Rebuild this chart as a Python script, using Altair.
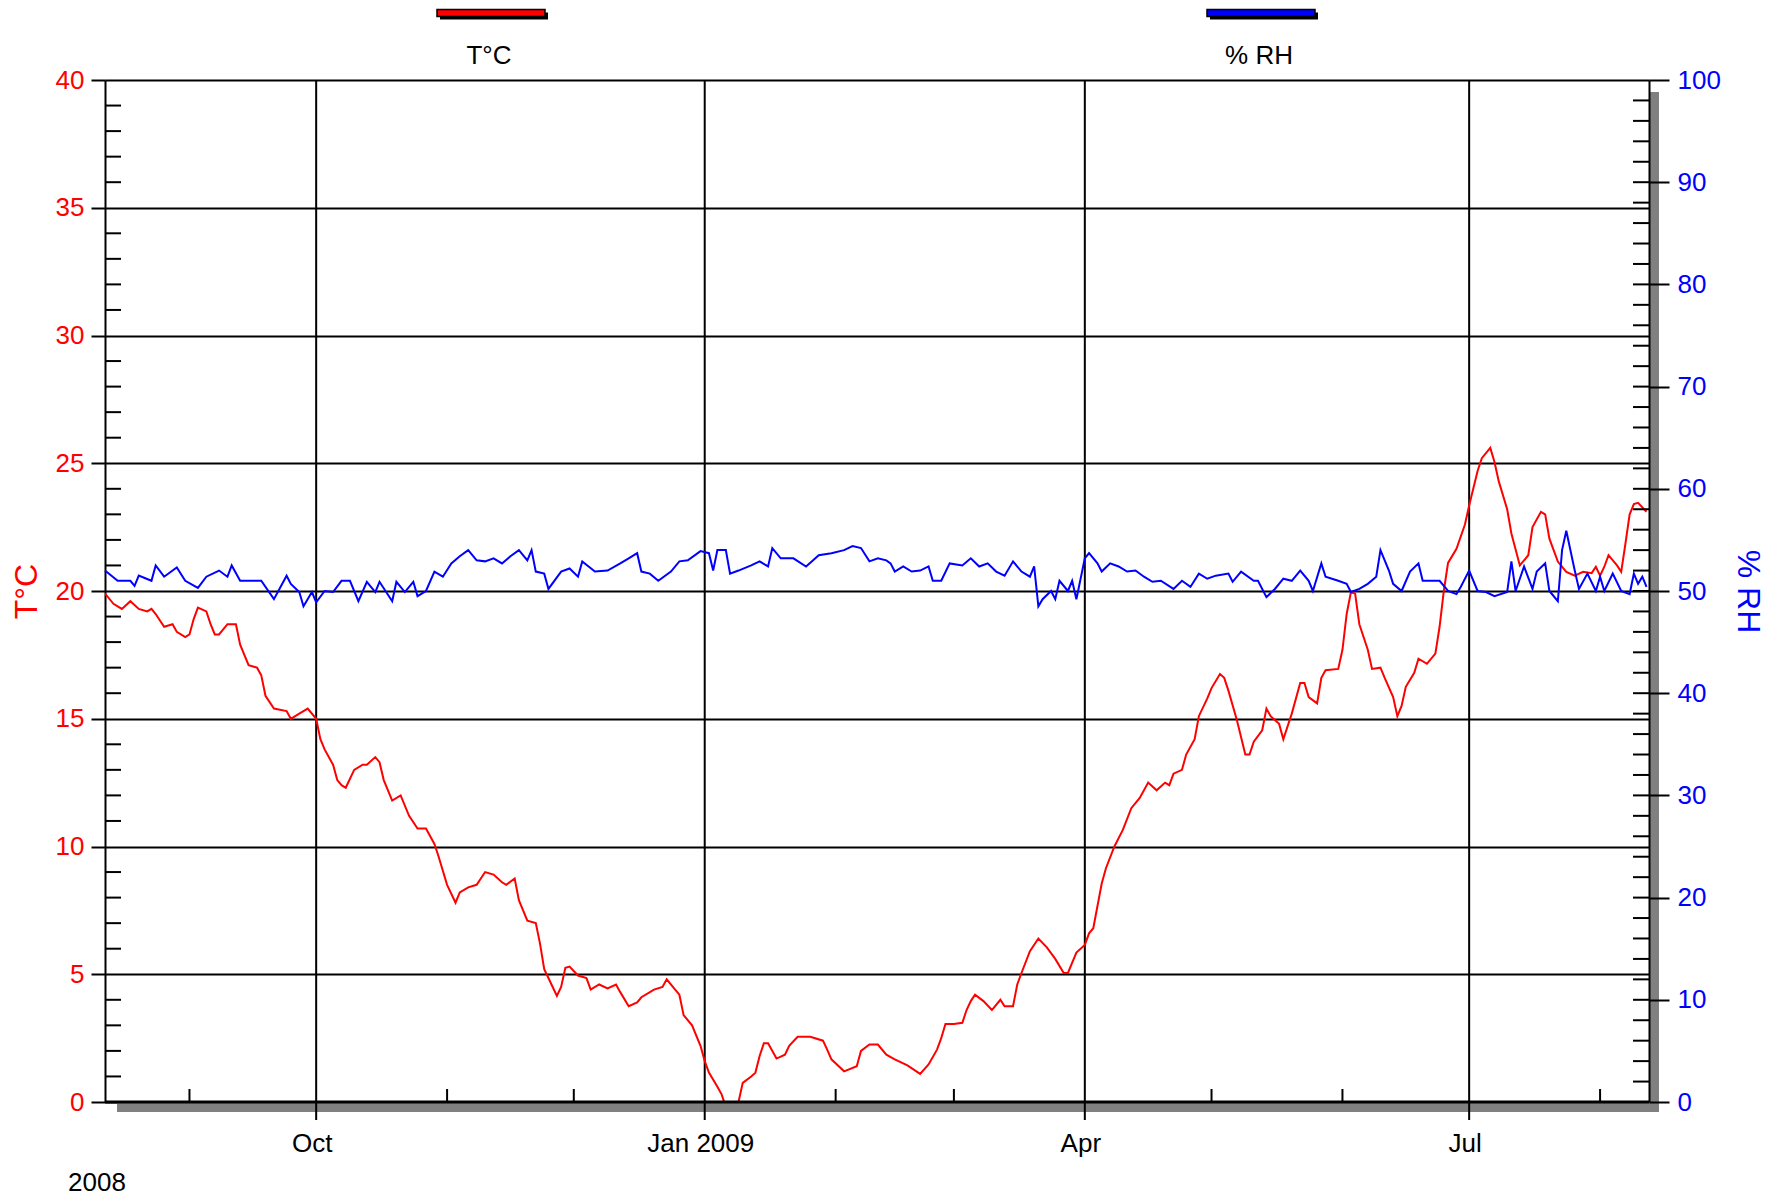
import altair as alt
import pandas as pd

# ---------------- data ----------------
t_dates = [
    "2008-08-12", "2008-08-14", "2008-08-16", "2008-08-18", "2008-08-20", "2008-08-22", "2008-08-23", "2008-08-24",
    "2008-08-26", "2008-08-28", "2008-08-29", "2008-08-31", "2008-09-01", "2008-09-02", "2008-09-03", "2008-09-05",
    "2008-09-06", "2008-09-07", "2008-09-08", "2008-09-10", "2008-09-12", "2008-09-13", "2008-09-15", "2008-09-17",
    "2008-09-18", "2008-09-19", "2008-09-21", "2008-09-24", "2008-09-25", "2008-09-27", "2008-09-29", "2008-10-01",
    "2008-10-02", "2008-10-03", "2008-10-05", "2008-10-06", "2008-10-07", "2008-10-08", "2008-10-10", "2008-10-12",
    "2008-10-13", "2008-10-15", "2008-10-16", "2008-10-17", "2008-10-19", "2008-10-21", "2008-10-23", "2008-10-25",
    "2008-10-27", "2008-10-29", "2008-10-30", "2008-11-01", "2008-11-03", "2008-11-04", "2008-11-06", "2008-11-08",
    "2008-11-10", "2008-11-12", "2008-11-14", "2008-11-15", "2008-11-17", "2008-11-18", "2008-11-20", "2008-11-22",
    "2008-11-23", "2008-11-24", "2008-11-26", "2008-11-27", "2008-11-28", "2008-11-29", "2008-11-30", "2008-12-02",
    "2008-12-04", "2008-12-05", "2008-12-07", "2008-12-09", "2008-12-11", "2008-12-12", "2008-12-14", "2008-12-16",
    "2008-12-17", "2008-12-20", "2008-12-22", "2008-12-23", "2008-12-25", "2008-12-26", "2008-12-27", "2008-12-29",
    "2008-12-31", "2009-01-01", "2009-01-02", "2009-01-04", "2009-01-05", "2009-01-06", "2009-01-08", "2009-01-09",
    "2009-01-10", "2009-01-12", "2009-01-13", "2009-01-14", "2009-01-15", "2009-01-16", "2009-01-18", "2009-01-20",
    "2009-01-21", "2009-01-23", "2009-01-26", "2009-01-29", "2009-01-30", "2009-01-31", "2009-02-03", "2009-02-06",
    "2009-02-07", "2009-02-09", "2009-02-11", "2009-02-13", "2009-02-15", "2009-02-18", "2009-02-21", "2009-02-23",
    "2009-02-25", "2009-02-26", "2009-02-27", "2009-03-01", "2009-03-03", "2009-03-04", "2009-03-05", "2009-03-06",
    "2009-03-08", "2009-03-10", "2009-03-12", "2009-03-13", "2009-03-15", "2009-03-16", "2009-03-17", "2009-03-19",
    "2009-03-21", "2009-03-23", "2009-03-25", "2009-03-27", "2009-03-28", "2009-03-30", "2009-04-01", "2009-04-02",
    "2009-04-03", "2009-04-05", "2009-04-06", "2009-04-08", "2009-04-10", "2009-04-12", "2009-04-14", "2009-04-16",
    "2009-04-18", "2009-04-20", "2009-04-21", "2009-04-22", "2009-04-24", "2009-04-25", "2009-04-27", "2009-04-28",
    "2009-04-30", "2009-05-01", "2009-05-03", "2009-05-04", "2009-05-05", "2009-05-07", "2009-05-09", "2009-05-10",
    "2009-05-11", "2009-05-13", "2009-05-14", "2009-05-15", "2009-05-17", "2009-05-18", "2009-05-20", "2009-05-22",
    "2009-05-23", "2009-05-24", "2009-05-26", "2009-05-27", "2009-05-28", "2009-05-31", "2009-06-01", "2009-06-02",
    "2009-06-03", "2009-06-04", "2009-06-05", "2009-06-07", "2009-06-08", "2009-06-10", "2009-06-11", "2009-06-13",
    "2009-06-14", "2009-06-15", "2009-06-16", "2009-06-18", "2009-06-19", "2009-06-21", "2009-06-23", "2009-06-24",
    "2009-06-25", "2009-06-26", "2009-06-28", "2009-06-30", "2009-07-01", "2009-07-03", "2009-07-04", "2009-07-06",
    "2009-07-07", "2009-07-08", "2009-07-10", "2009-07-11", "2009-07-13", "2009-07-15", "2009-07-16", "2009-07-18",
    "2009-07-19", "2009-07-20", "2009-07-22", "2009-07-24", "2009-07-26", "2009-07-28", "2009-07-30", "2009-07-31",
    "2009-08-01", "2009-08-02", "2009-08-03", "2009-08-05", "2009-08-06", "2009-08-07", "2009-08-08", "2009-08-09",
    "2009-08-10", "2009-08-12",
]
t_values = [
    19.9, 19.5, 19.3, 19.6, 19.3, 19.2, 19.3, 19.1,
    18.6, 18.7, 18.4, 18.2, 18.3, 18.9, 19.35, 19.2,
    18.7, 18.3, 18.3, 18.7, 18.7, 17.9, 17.1, 17.0,
    16.7, 15.9, 15.4, 15.3, 15.0, 15.2, 15.4, 15.0,
    14.2, 13.8, 13.2, 12.6, 12.4, 12.3, 13.0, 13.2,
    13.2, 13.5, 13.3, 12.6, 11.8, 12.0, 11.2, 10.7,
    10.7, 10.1, 9.6, 8.5, 7.8, 8.2, 8.4, 8.5,
    9.0, 8.9, 8.6, 8.5, 8.75, 7.9, 7.1, 7.0,
    6.2, 5.2, 4.5, 4.15, 4.5, 5.25, 5.3, 4.95,
    4.85, 4.4, 4.6, 4.45, 4.6, 4.3, 3.75, 3.9,
    4.1, 4.4, 4.5, 4.8, 4.4, 4.2, 3.4, 3.0,
    2.2, 1.6, 1.15, 0.6, 0.3, -0.2, -0.4, 0.0,
    0.75, 1.0, 1.15, 1.8, 2.3, 2.3, 1.7, 1.85,
    2.2, 2.55, 2.55, 2.4, 2.05, 1.67, 1.2, 1.4,
    2.0, 2.25, 2.25, 1.85, 1.67, 1.43, 1.1, 1.47,
    2.05, 2.5, 3.05, 3.05, 3.1, 3.6, 3.95, 4.2,
    3.95, 3.6, 4.0, 3.75, 3.75, 4.6, 5.05, 5.9,
    6.4, 6.05, 5.6, 5.05, 5.05, 5.85, 6.15, 6.6,
    6.8, 8.55, 9.15, 10.0, 10.65, 11.5, 11.9, 12.5,
    12.2, 12.5, 12.4, 12.85, 13.0, 13.6, 14.2, 15.1,
    15.8, 16.2, 16.75, 16.6, 16.1, 14.95, 13.6, 13.6,
    14.1, 14.55, 15.4, 15.1, 14.8, 14.2, 15.2, 16.4,
    16.4, 15.85, 15.6, 16.6, 16.9, 16.95, 17.7, 19.1,
    19.95, 19.9, 18.7, 17.7, 16.95, 17.0, 16.6, 15.85,
    15.1, 15.5, 16.25, 16.8, 17.35, 17.15, 17.55, 18.6,
    20.0, 21.1, 21.65, 22.6, 23.35, 24.7, 25.2, 25.6,
    25.05, 24.3, 23.2, 22.25, 21.0, 21.4, 22.5, 23.1,
    23.0, 22.05, 21.15, 20.75, 20.6, 20.75, 20.7, 20.95,
    20.6, 20.95, 21.4, 21.0, 20.75, 21.85, 23.0, 23.4,
    23.45, 23.1,
]

rh_dates = [
    "2008-08-12", "2008-08-15", "2008-08-18", "2008-08-19", "2008-08-20", "2008-08-23", "2008-08-24", "2008-08-26",
    "2008-08-29", "2008-08-31", "2008-09-03", "2008-09-05", "2008-09-08", "2008-09-10", "2008-09-11", "2008-09-13",
    "2008-09-18", "2008-09-21", "2008-09-24", "2008-09-25", "2008-09-27", "2008-09-28", "2008-09-30", "2008-10-01",
    "2008-10-03", "2008-10-05", "2008-10-07", "2008-10-09", "2008-10-11", "2008-10-13", "2008-10-15", "2008-10-16",
    "2008-10-19", "2008-10-20", "2008-10-22", "2008-10-24", "2008-10-25", "2008-10-27", "2008-10-29", "2008-10-31",
    "2008-11-02", "2008-11-04", "2008-11-06", "2008-11-08", "2008-11-10", "2008-11-12", "2008-11-14", "2008-11-16",
    "2008-11-18", "2008-11-20", "2008-11-21", "2008-11-22", "2008-11-24", "2008-11-25", "2008-11-28", "2008-11-30",
    "2008-12-02", "2008-12-03", "2008-12-06", "2008-12-09", "2008-12-12", "2008-12-14", "2008-12-16", "2008-12-17",
    "2008-12-19", "2008-12-21", "2008-12-24", "2008-12-26", "2008-12-28", "2008-12-31", "2009-01-02", "2009-01-03",
    "2009-01-04", "2009-01-06", "2009-01-07", "2009-01-09", "2009-01-12", "2009-01-14", "2009-01-16", "2009-01-17",
    "2009-01-19", "2009-01-22", "2009-01-25", "2009-01-28", "2009-01-31", "2009-02-03", "2009-02-05", "2009-02-07",
    "2009-02-09", "2009-02-11", "2009-02-13", "2009-02-14", "2009-02-15", "2009-02-17", "2009-02-19", "2009-02-21",
    "2009-02-23", "2009-02-24", "2009-02-26", "2009-02-28", "2009-03-03", "2009-03-05", "2009-03-07", "2009-03-09",
    "2009-03-11", "2009-03-13", "2009-03-15", "2009-03-17", "2009-03-19", "2009-03-20", "2009-03-21", "2009-03-22",
    "2009-03-24", "2009-03-25", "2009-03-26", "2009-03-28", "2009-03-29", "2009-03-30", "2009-04-01", "2009-04-02",
    "2009-04-04", "2009-04-05", "2009-04-07", "2009-04-09", "2009-04-11", "2009-04-13", "2009-04-15", "2009-04-17",
    "2009-04-19", "2009-04-22", "2009-04-24", "2009-04-26", "2009-04-28", "2009-04-30", "2009-05-02", "2009-05-05",
    "2009-05-06", "2009-05-08", "2009-05-11", "2009-05-12", "2009-05-14", "2009-05-16", "2009-05-18", "2009-05-20",
    "2009-05-22", "2009-05-24", "2009-05-25", "2009-05-27", "2009-05-28", "2009-05-31", "2009-06-02", "2009-06-03",
    "2009-06-05", "2009-06-07", "2009-06-09", "2009-06-10", "2009-06-12", "2009-06-13", "2009-06-15", "2009-06-17",
    "2009-06-19", "2009-06-20", "2009-06-22", "2009-06-24", "2009-06-26", "2009-06-28", "2009-06-29", "2009-07-01",
    "2009-07-03", "2009-07-05", "2009-07-07", "2009-07-10", "2009-07-11", "2009-07-12", "2009-07-14", "2009-07-16",
    "2009-07-17", "2009-07-19", "2009-07-20", "2009-07-22", "2009-07-23", "2009-07-24", "2009-07-26", "2009-07-27",
    "2009-07-29", "2009-07-31", "2009-08-01", "2009-08-02", "2009-08-04", "2009-08-06", "2009-08-08", "2009-08-09",
    "2009-08-10", "2009-08-11", "2009-08-12",
]
rh_values = [
    52.0, 51.0, 51.0, 50.5, 51.5, 51.0, 52.5, 51.4,
    52.3, 51.0, 50.3, 51.4, 52.0, 51.4, 52.5, 51.0,
    51.0, 49.2, 51.5, 50.7, 49.9, 48.5, 49.9, 48.9,
    50.0, 49.9, 51.0, 51.0, 49.0, 50.9, 49.9, 50.9,
    49.0, 50.9, 49.9, 50.9, 49.5, 50.0, 51.9, 51.4,
    52.7, 53.4, 54.0, 53.0, 52.9, 53.2, 52.7, 53.4,
    54.0, 53.0, 54.0, 51.9, 51.7, 50.2, 51.9, 52.2,
    51.4, 52.9, 51.9, 52.0, 52.7, 53.2, 53.7, 51.9,
    51.7, 51.0, 51.9, 52.9, 53.0, 53.9, 53.7, 52.0,
    54.0, 54.0, 51.7, 52.0, 52.5, 52.9, 52.4, 54.2,
    53.2, 53.2, 52.4, 53.5, 53.7, 54.0, 54.4, 54.2,
    52.9, 53.2, 53.0, 52.7, 51.9, 52.4, 51.9, 52.0,
    52.4, 51.0, 51.0, 52.7, 52.5, 53.2, 52.4, 52.7,
    51.9, 51.5, 52.9, 51.9, 51.4, 52.4, 48.5, 49.2,
    50.0, 49.2, 51.0, 50.0, 51.0, 49.2, 53.2, 53.7,
    52.7, 51.9, 52.7, 52.4, 51.9, 52.0, 51.4, 50.9,
    51.0, 50.2, 51.0, 50.4, 51.7, 51.2, 51.5, 51.7,
    50.9, 51.9, 51.0, 51.0, 49.4, 50.2, 51.2, 51.0,
    52.0, 51.0, 50.0, 52.7, 51.4, 51.0, 50.7, 49.9,
    50.2, 50.7, 51.4, 54.0, 52.0, 50.7, 50.0, 51.9,
    52.7, 51.0, 51.0, 51.0, 50.0, 49.7, 50.4, 52.0,
    50.0, 49.9, 49.5, 49.9, 52.9, 50.0, 52.4, 50.2,
    51.9, 52.7, 50.0, 49.0, 54.0, 55.9, 52.0, 50.2,
    51.7, 50.0, 51.4, 50.0, 51.7, 50.0, 49.7, 51.7,
    50.7, 51.4, 50.4,
]

quarter_ticks = ["2008-10-01", "2009-01-01", "2009-04-01", "2009-07-01"]
quarter_labels = ["Oct", "Jan 2009", "Apr", "Jul"]
month_ticks = ["2008-09-01", "2008-11-01", "2008-12-01", "2009-02-01",
               "2009-03-01", "2009-05-01", "2009-06-01", "2009-08-01"]
x_range = ["2008-08-12 00:00", "2009-08-12 14:00"]
t_axis_values = [0, 5, 10, 15, 20, 25, 30, 35, 40]
rh_axis_values = [0, 10, 20, 30, 40, 50, 60, 70, 80, 90, 100]
t_minor_values = [v for v in range(0, 41) if v % 5 != 0]
rh_minor_values = [v for v in range(2, 100, 2)]
series_names = ["T°C", "% RH"]
series_colors = ["#FF0000", "#0000FF"]
year_label = "2008"

# ---------------- layout ----------------
W, H = 1544, 1022
FONT = "Liberation Sans"
FS = 26
TFS = 32
RED, BLUE = series_colors
GRAY = "#808080"


def ms(s):
    return int(pd.Timestamp(s, tz="UTC").value // 10**6)


t_df = pd.DataFrame({"date": [ms(d) for d in t_dates], "value": t_values})
rh_df = pd.DataFrame({"date": [ms(d) for d in rh_dates], "value": rh_values})
q_df = pd.DataFrame({"date": [ms(d) for d in quarter_ticks], "label": quarter_labels})
m_df = pd.DataFrame({"date": [ms(d) for d in month_ticks]})
one = alt.Data(values=[{"k": 1}])

xscale = alt.Scale(type="utc", domain=[ms(x_range[0]), ms(x_range[1])])

shadow_r = alt.Chart(one).mark_rect(color=GRAY).encode(
    x=alt.value(W), x2=alt.value(W + 10), y=alt.value(12), y2=alt.value(H + 10))
shadow_b = alt.Chart(one).mark_rect(color=GRAY).encode(
    x=alt.value(12), x2=alt.value(W + 10), y=alt.value(H), y2=alt.value(H + 10))

# quarter grid lines (full height + outward tick) and labels
q_grid = alt.Chart(q_df).mark_rule(color="black", strokeWidth=2).encode(
    x=alt.X("date:T", scale=xscale, axis=None),
    y=alt.value(0), y2=alt.value(H + 18))
q_text = alt.Chart(q_df).mark_text(font=FONT, fontSize=FS, color="black",
                                   align="center", baseline="middle", dx=-4).encode(
    x=alt.X("date:T", scale=xscale, axis=None),
    y=alt.value(H + 42), text="label:N")
bottom_line = alt.Chart(one).mark_rule(color="black", strokeWidth=3).encode(
    x=alt.value(0), x2=alt.value(W), y=alt.value(H))

temp = alt.Chart(t_df).mark_line(color=RED, strokeWidth=2, clip=True).encode(
    x=alt.X("date:T", scale=xscale, axis=None),
    y=alt.Y("value:Q", scale=alt.Scale(domain=[0, 40], nice=False, zero=False),
            axis=alt.Axis(orient="left", values=t_axis_values, grid=True, gridColor="black",
                          gridWidth=2, gridOpacity=1, domainColor="black", domainWidth=2,
                          tickColor="black", tickWidth=2, tickSize=14, labelColor=RED,
                          labelFont=FONT, labelFontSize=FS, labelPadding=7,
                          title=series_names[0], titleColor=RED, titleFont=FONT, titleFontSize=TFS,
                          titleFontWeight="normal", titleAngle=270, titleX=-79, titleY=H / 2,
                          titleAlign="center", titleBaseline="middle", zindex=0)),
)

rh = alt.Chart(rh_df).mark_line(color=BLUE, strokeWidth=2).encode(
    x=alt.X("date:T", scale=xscale, axis=None),
    y=alt.Y("value:Q", scale=alt.Scale(domain=[0, 100], nice=False, zero=False),
            axis=alt.Axis(orient="right", values=rh_axis_values, grid=False, domainColor="black",
                          domainWidth=2, tickColor="black", tickWidth=2, tickSize=20, labelColor=BLUE,
                          labelFont=FONT, labelFontSize=FS, labelPadding=8,
                          title=series_names[1], titleColor=BLUE, titleFont=FONT, titleFontSize=TFS,
                          titleFontWeight="normal", titleAngle=90, titleX=98, titleY=H / 2,
                          titleAlign="center", titleBaseline="middle", zindex=1)),
)

t_minor = alt.Chart(pd.DataFrame({"v": t_minor_values})).mark_rule(color="black", strokeWidth=2).encode(
    y=alt.Y("v:Q", scale=alt.Scale(domain=[0, 40], nice=False, zero=False), axis=None),
    x=alt.value(0), x2=alt.value(16))
rh_minor = alt.Chart(pd.DataFrame({"v": rh_minor_values})).mark_rule(color="black", strokeWidth=2).encode(
    y=alt.Y("v:Q", scale=alt.Scale(domain=[0, 100], nice=False, zero=False), axis=None),
    x=alt.value(W - 16), x2=alt.value(W))
m_minor = alt.Chart(m_df).mark_rule(color="black", strokeWidth=2).encode(
    x=alt.X("date:T", scale=xscale, axis=None),
    y=alt.value(H - 13), y2=alt.value(H))


def legend_item(i, x0):
    shadow = alt.Chart(one).mark_rect(color="black").encode(
        x=alt.value(x0 + 3), x2=alt.value(x0 + 111), y=alt.value(-67.5), y2=alt.value(-60.5))
    bar = alt.Chart(one).mark_rect(color=series_colors[i], stroke="black", strokeWidth=1.5).encode(
        x=alt.value(x0), x2=alt.value(x0 + 108), y=alt.value(-70.5), y2=alt.value(-63.5))
    label = alt.Chart(one).mark_text(text=series_names[i], font=FONT, fontSize=FS, color="black",
                                     align="center", baseline="middle").encode(
        x=alt.value(x0 + 52), y=alt.value(-24))
    return [shadow, bar, label]


year = alt.Chart(one).mark_text(text=year_label, font=FONT, fontSize=FS, color="black",
                                align="left", baseline="middle").encode(
    x=alt.value(-37), y=alt.value(H + 81))

layers = ([shadow_r, shadow_b, q_grid, temp, rh, t_minor, rh_minor, m_minor, bottom_line, q_text]
          + legend_item(0, 332) + legend_item(1, 1102) + [year])

chart = alt.layer(*layers).resolve_scale(y="independent").properties(
    width=W, height=H,
    autosize=alt.AutoSizeParams(type="none"),
    padding={"left": 97, "top": 72, "right": 118, "bottom": 94},
).configure_view(stroke=None)

chart.save("out.html", embed_options={"renderer": "svg", "actions": False})
